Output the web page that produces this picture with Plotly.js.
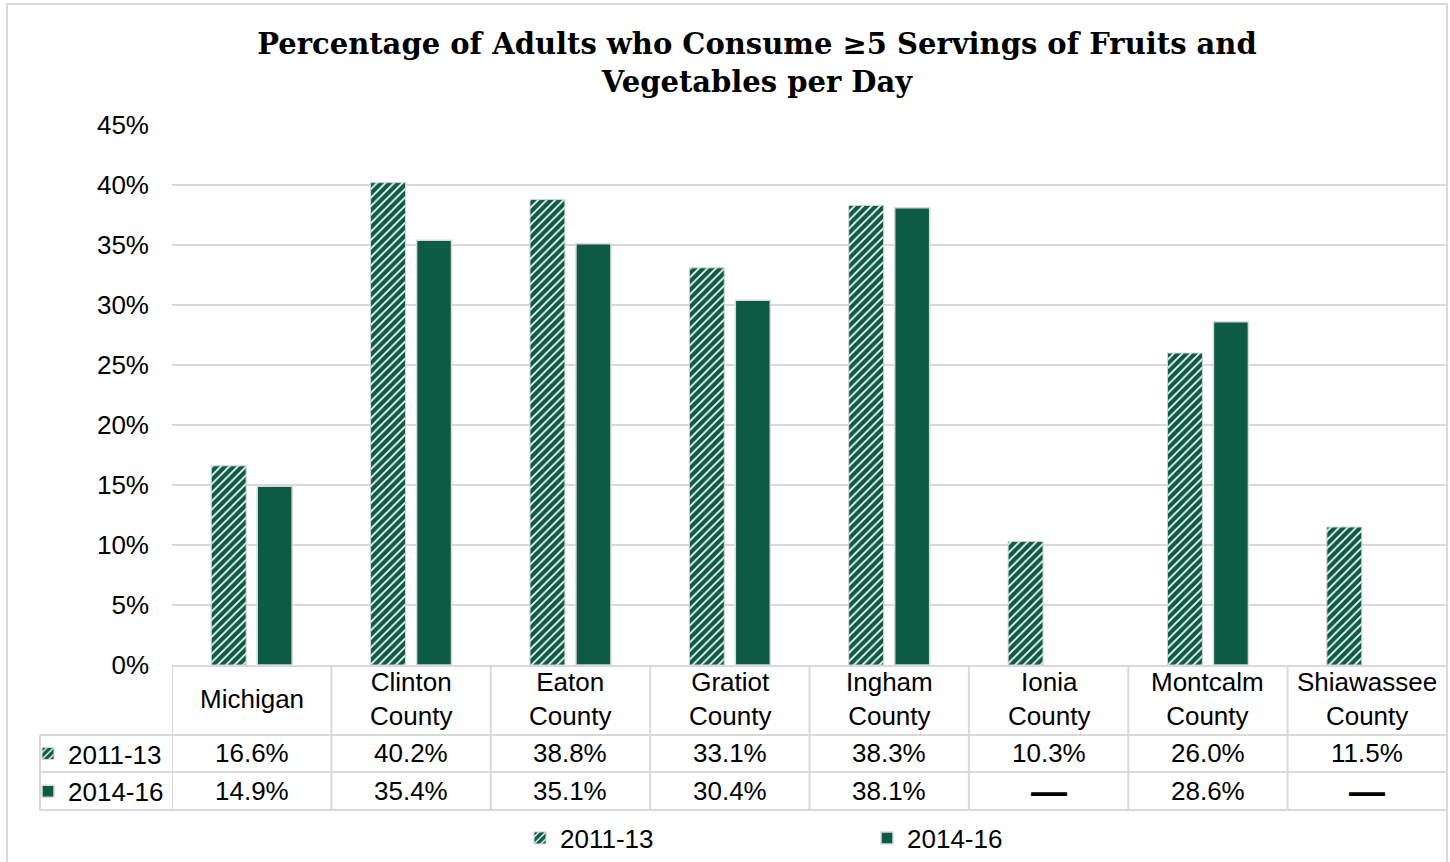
<!DOCTYPE html>
<html>
<head>
<meta charset="utf-8">
<script src="https://cdn.plot.ly/plotly-3.0.1.min.js"></script>
<style>
html,body{margin:0;padding:0;background:#fff;}
#chart{width:1450px;height:862px;}
</style>
</head>
<body>
<div id="chart"></div>
<script>
// ---- data ----
const categories = ["Michigan", "Clinton County", "Eaton County", "Gratiot County", "Ingham County", "Ionia County", "Montcalm County", "Shiawassee County"];
const categoryLabels = ["Michigan", "Clinton<br>County", "Eaton<br>County", "Gratiot<br>County", "Ingham<br>County", "Ionia<br>County", "Montcalm<br>County", "Shiawassee<br>County"];
const seriesNames = ["2011-13", "2014-16"];
const values2011_13 = [16.6, 40.2, 38.8, 33.1, 38.3, 10.3, 26.0, 11.5];
const values2014_16 = [14.9, 35.4, 35.1, 30.4, 38.1, null, 28.6, null];
const yTickValues = [0, 5, 10, 15, 20, 25, 30, 35, 40, 45];
const titleText = "Percentage of Adults who Consume ≥5 Servings of Fruits and<br>Vegetables per Day";

// ---- style ----
const GREEN = "#0d5a45";
const GRID = "#d9d9d9";
const FONT = "Liberation Sans, Arial, sans-serif";
const FS = 26;
const W = 1450, H = 862;
const ML = 172, MR = 3, MT = 125, MB = 197;
const PW = W - ML - MR, PH = H - MT - MB;
const px2x = p => (p - ML) / PW;          // pixel -> paper x
const py2y = p => (H - MB - p) / PH;      // pixel -> paper y

const hatch = {shape: "/", fgcolor: "#ffffff", bgcolor: GREEN, size: 6, solidity: 0.28, fillmode: "replace"};

const traces = [
  {type: "bar", name: seriesNames[0], x: categories, y: values2011_13,
   marker: {color: GREEN, pattern: hatch, line: {color: "#cfd8d4", width: 1}},
   legend: "legend2", legendgroup: "a", hoverinfo: "x+y"},
  {type: "bar", name: seriesNames[1], x: categories, y: values2014_16,
   marker: {color: GREEN, line: {color: GRID, width: 1.5}},
   legend: "legend2", legendgroup: "b", hoverinfo: "x+y"},
  // legend-only copies for the bottom legend (on a hidden overlay axis)
  {type: "bar", name: seriesNames[0], x: [categories[0]], y: [null], xaxis: "x2", yaxis: "y2",
   marker: {color: GREEN, pattern: hatch, line: {color: "#cfd8d4", width: 1}}, legend: "legend", hoverinfo: "skip"},
  {type: "bar", name: seriesNames[1], x: [categories[0]], y: [null], xaxis: "x2", yaxis: "y2",
   marker: {color: GREEN, line: {color: GRID, width: 1.5}}, legend: "legend", hoverinfo: "skip"}
];

// ---- data table (annotations + lines) ----
const annotations = [];
const yHeader = py2y(699), yRow1 = py2y(753), yRow2 = py2y(791);
const fmt = v => (v === null ? "<b>—</b>" : v.toFixed(1) + "%");
categories.forEach((c, i) => {
  annotations.push({xref: "x", yref: "paper", x: c, y: yHeader, text: categoryLabels[i], showarrow: false,
    xanchor: "center", yanchor: "middle", font: {family: FONT, size: FS, color: "#000"}});
  annotations.push({xref: "x", yref: "paper", x: c, y: yRow1, text: fmt(values2011_13[i]), showarrow: false,
    xanchor: "center", yanchor: "middle", font: {family: FONT, size: values2011_13[i] === null ? 36 : FS, color: "#000"}});
  annotations.push({xref: "x", yref: "paper", x: c, y: yRow2, text: fmt(values2014_16[i]), showarrow: false,
    xanchor: "center", yanchor: "middle", font: {family: FONT, size: values2014_16[i] === null ? 36 : FS, color: "#000"}});
});

const shapes = [];
const lineStyle = {color: GRID, width: 2};
// outer chart border
shapes.push({type: "rect", xref: "paper", yref: "paper", x0: px2x(7), x1: px2x(1447), y0: py2y(870), y1: py2y(4),
  line: {color: GRID, width: 2}, layer: "below"});
// vertical table lines at category boundaries
for (let i = 0; i <= categories.length; i++) {
  shapes.push({type: "line", xref: "x", yref: "paper", x0: i - 0.5, x1: i - 0.5, y0: 0, y1: py2y(810), line: lineStyle});
}
// horizontal table lines
[735, 772, 810].forEach(p => {
  shapes.push({type: "line", xref: "paper", yref: "paper", x0: px2x(40), x1: 1, y0: py2y(p), y1: py2y(p), line: lineStyle});
});
shapes.push({type: "line", xref: "paper", yref: "paper", x0: px2x(40), x1: px2x(40), y0: py2y(735), y1: py2y(810), line: lineStyle});

const layout = {
  width: W, height: H,
  margin: {l: ML, r: MR, t: MT, b: MB, autoexpand: false},
  paper_bgcolor: "#fff", plot_bgcolor: "#fff",
  title: {text: "<b>" + titleText + "</b>", font: {family: "DejaVu Serif, Georgia, serif", size: 29, color: "#000"},
    xref: "paper", x: px2x(757), xanchor: "center", yref: "container", y: 1 - 54 / H, yanchor: "top"},
  barmode: "group", bargap: 0.423, bargroupgap: 0.24,
  xaxis: {type: "category", showticklabels: false, ticks: "", showgrid: false, zeroline: false,
    showline: true, linecolor: GRID, linewidth: 2, range: [-0.5, categories.length - 0.5], fixedrange: true},
  xaxis2: {type: "category", overlaying: "x", visible: false, range: [-0.5, categories.length - 0.5]},
  yaxis: {range: [0, 45], tickvals: yTickValues, ticktext: yTickValues.map(v => v + "%"),
    showgrid: true, gridcolor: GRID, gridwidth: 2, zeroline: false, showline: false, ticks: "",
    ticklabelstandoff: 22, tickfont: {family: FONT, size: FS, color: "#000"}, fixedrange: true},
  yaxis2: {overlaying: "y", visible: false, range: [0, 45]},
  showlegend: true,
  legend: {orientation: "h", x: px2x(520), xanchor: "left", y: py2y(838), yanchor: "middle",
    entrywidth: 302, entrywidthmode: "pixels", font: {family: FONT, size: FS, color: "#000"}, bgcolor: "rgba(0,0,0,0)"},
  legend2: {orientation: "v", x: px2x(28), xanchor: "left", y: py2y(730), yanchor: "top",
    traceorder: "grouped", tracegroupgap: 1, font: {family: FONT, size: FS, color: "#000"}, bgcolor: "rgba(0,0,0,0)"},
  annotations: annotations,
  shapes: shapes
};

Plotly.newPlot("chart", traces, layout, {displayModeBar: false, staticPlot: true});
</script>
</body>
</html>
